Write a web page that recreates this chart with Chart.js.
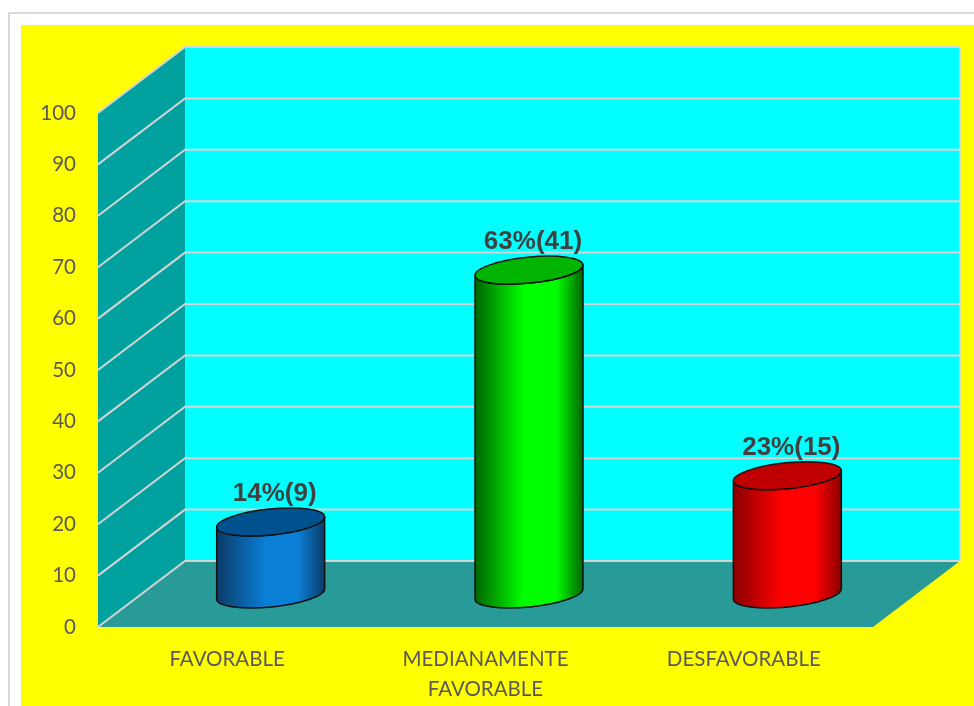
<!DOCTYPE html>
<html lang="es">
<head>
<meta charset="UTF-8">
<title>Nivel de conocimiento</title>
<script src="https://cdn.jsdelivr.net/npm/chart.js"></script>
<style>
  html, body { margin: 0; padding: 0; background: #fff; }
  #wrap { width: 974px; height: 706px; }
</style>
</head>
<body>
<div id="wrap"><canvas id="grafico" width="974" height="706"></canvas></div>
<script>
const categorias = ["FAVORABLE", ["MEDIANAMENTE", "FAVORABLE"], "DESFAVORABLE"];
const porcentajes = [14, 63, 23];
const cantidades = [9, 41, 15];
const ticksY = [0, 10, 20, 30, 40, 50, 60, 70, 80, 90, 100];

// colores de cada cilindro: borde oscuro, centro claro, tapa
const colorOscuro = ["#0b3a66", "#006400", "#8a0000"];
const colorClaro = ["#0a7fd6", "#00ff00", "#ff0000"];
const colorTapa = ["#00528e", "#00b400", "#c00000"];

// profundidad de la caja 3D
const PX = 87, PY = 66;

const fondo3d = {
  id: 'fondo3d',
  beforeDraw(chart) {
    const ctx = chart.ctx;
    const a = chart.chartArea;
    const y = chart.scales.y;
    ctx.save();
    ctx.fillStyle = '#fff';
    ctx.fillRect(0, 0, chart.width, chart.height);
    ctx.strokeStyle = '#d9d9d9';
    ctx.lineWidth = 2;
    ctx.beginPath();
    ctx.moveTo(9, chart.height);
    ctx.lineTo(9, 13);
    ctx.lineTo(chart.width, 13);
    ctx.stroke();
    ctx.fillStyle = '#ffff00';
    ctx.fillRect(21, 25, chart.width - 21, chart.height - 25);

    // pared lateral
    ctx.fillStyle = '#00a19e';
    ctx.beginPath();
    ctx.moveTo(a.left, a.top);
    ctx.lineTo(a.left + PX, a.top - PY);
    ctx.lineTo(a.left + PX, a.bottom - PY);
    ctx.lineTo(a.left, a.bottom);
    ctx.closePath();
    ctx.fill();
    // pared del fondo
    ctx.fillStyle = '#00ffff';
    ctx.fillRect(a.left + PX, a.top - PY, a.right - a.left, a.bottom - a.top);
    // piso
    ctx.fillStyle = '#289b98';
    ctx.beginPath();
    ctx.moveTo(a.left + PX, a.bottom - PY);
    ctx.lineTo(a.right + PX, a.bottom - PY);
    ctx.lineTo(a.right, a.bottom);
    ctx.lineTo(a.left, a.bottom);
    ctx.closePath();
    ctx.fill();

    // lineas de division
    ctx.strokeStyle = '#d4d4d4';
    ctx.lineWidth = 2;
    ticksY.forEach(v => {
      const py = y.getPixelForValue(v);
      ctx.beginPath();
      ctx.moveTo(a.left, py);
      ctx.lineTo(a.left + PX, py - PY);
      ctx.lineTo(a.right + PX, py - PY);
      ctx.stroke();
    });
    ctx.lineWidth = 1.5;
    ctx.beginPath();
    ctx.moveTo(a.right + PX, a.top - PY);
    ctx.lineTo(a.right + PX, a.bottom - PY);
    ctx.stroke();
    ctx.restore();
  }
};

const cilindros = {
  id: 'cilindros',
  afterDatasetsDraw(chart) {
    const ctx = chart.ctx;
    const meta = chart.getDatasetMeta(0);
    const rot = -0.1, ry = 13;
    meta.data.forEach((bar, i) => {
      const cx = bar.x + PX / 2;
      const top = bar.y - PY / 2;
      const base = bar.base - PY / 2;
      const rx = bar.width / 2;
      const c = Math.cos(rot), s = Math.sin(rot);
      ctx.save();
      const g = ctx.createLinearGradient(cx - rx, 0, cx + rx, 0);
      g.addColorStop(0, colorOscuro[i]);
      g.addColorStop(0.45, colorClaro[i]);
      g.addColorStop(0.75, colorClaro[i]);
      g.addColorStop(1, colorOscuro[i]);
      ctx.fillStyle = g;
      ctx.strokeStyle = '#111';
      ctx.lineWidth = 1.5;
      ctx.beginPath();
      ctx.moveTo(cx + rx * c, top + rx * s);
      ctx.lineTo(cx + rx * c, base + rx * s);
      ctx.ellipse(cx, base, rx, ry, rot, 0, Math.PI, false);
      ctx.lineTo(cx - rx * c, top - rx * s);
      ctx.ellipse(cx, top, rx, ry, rot, Math.PI, 0, true);
      ctx.closePath();
      ctx.fill();
      ctx.stroke();
      // tapa
      ctx.fillStyle = colorTapa[i];
      ctx.beginPath();
      ctx.ellipse(cx, top, rx, ry, rot, 0, Math.PI * 2);
      ctx.fill();
      ctx.stroke();
      // etiqueta
      ctx.fillStyle = '#404040';
      ctx.font = 'bold 26px "Liberation Sans", Arial, sans-serif';
      ctx.textAlign = 'center';
      ctx.textBaseline = 'middle';
      ctx.fillText(porcentajes[i] + '%(' + cantidades[i] + ')', cx + 4, top - 28);
      ctx.restore();
    });
  }
};

new Chart(document.getElementById('grafico'), {
  type: 'bar',
  data: {
    labels: categorias,
    datasets: [{
      data: porcentajes,
      backgroundColor: 'rgba(0,0,0,0)',
      borderWidth: 0,
      categoryPercentage: 1,
      barPercentage: 0.42
    }]
  },
  options: {
    responsive: false,
    animation: false,
    layout: { padding: { top: 113, right: 101, bottom: 0, left: 0 } },
    plugins: { legend: { display: false }, tooltip: { enabled: false } },
    scales: {
      y: {
        min: 0,
        max: 100,
        afterBuildTicks: s => { s.ticks = ticksY.map(v => ({ value: v })); },
        afterFit: s => { s.width = 98; },
        grid: { display: false, drawTicks: false },
        border: { display: false },
        ticks: { color: '#595959', padding: 22, font: { family: 'Lato', size: 20.5 } }
      },
      x: {
        afterFit: s => { s.height = 79; },
        grid: { display: false, drawTicks: false },
        border: { display: false },
        ticks: { color: '#595959', padding: 18, maxRotation: 0, font: { family: 'Lato', size: 20.5 , lineHeight: 1.45 } }
      }
    }
  },
  plugins: [fondo3d, cilindros]
});
</script>
</body>
</html>
